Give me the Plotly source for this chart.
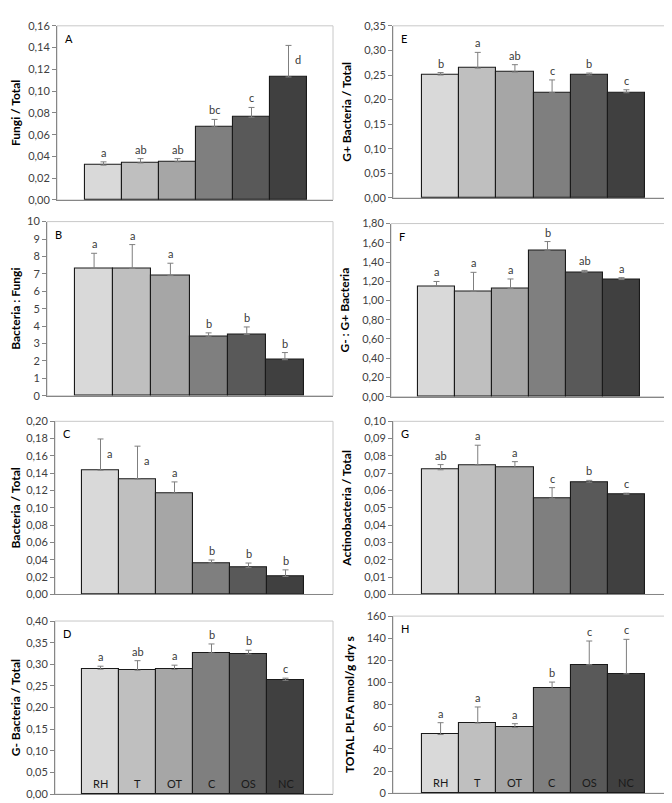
import plotly.graph_objects as go

W, H = 672, 803

categories = ["RH", "T", "OT", "C", "OS", "NC"]
bar_colors = ["#d9d9d9", "#bfbfbf", "#a6a6a6", "#7f7f7f", "#595959", "#404040"]

# Panel A: Fungi / Total
fungi_total = [0.032, 0.034, 0.035, 0.067, 0.076, 0.113]
fungi_total_err = [0.003, 0.004, 0.003, 0.007, 0.009, 0.029]
fungi_total_letters = ["a", "ab", "ab", "bc", "c", "d"]

# Panel B: Bacteria : Fungi
bact_fungi = [7.31, 7.31, 6.90, 3.38, 3.52, 2.07]
bact_fungi_err = [0.87, 1.37, 0.71, 0.23, 0.43, 0.41]
bact_fungi_letters = ["a", "a", "a", "b", "b", "b"]

# Panel C: Bacteria / Total
bact_total = [0.1436, 0.1333, 0.117, 0.0364, 0.031, 0.0208]
bact_total_err = [0.036, 0.038, 0.013, 0.0034, 0.0053, 0.0076]
bact_total_letters = ["a", "a", "a", "b", "b", "b"]

# Panel D: G- Bacteria / Total
gneg_total = [0.2886, 0.2864, 0.288, 0.326, 0.3235, 0.263]
gneg_total_err = [0.007, 0.022, 0.010, 0.021, 0.009, 0.005]
gneg_total_letters = ["a", "ab", "a", "b", "b", "c"]

# Panel E: G+ Bacteria / Total
gpos_total = [0.250, 0.264, 0.256, 0.214, 0.250, 0.214]
gpos_total_err = [0.005, 0.032, 0.015, 0.026, 0.004, 0.006]
gpos_total_letters = ["b", "a", "ab", "c", "b", "c"]

# Panel F: G- : G+ Bacteria
gneg_gpos = [1.15, 1.096, 1.124, 1.523, 1.293, 1.218]
gneg_gpos_err = [0.048, 0.197, 0.10, 0.09, 0.02, 0.02]
gneg_gpos_letters = ["a", "a", "a", "b", "ab", "a"]

# Panel G: Actinobacteria / Total
actino_total = [0.072, 0.0748, 0.0733, 0.0555, 0.0648, 0.0578]
actino_total_err = [0.003, 0.0114, 0.0034, 0.0062, 0.0011, 0.0007]
actino_total_letters = ["ab", "a", "a", "c", "b", "c"]

# Panel H: TOTAL PLFA
total_plfa = [53.0, 63.4, 59.3, 94.5, 116.1, 107.9]
total_plfa_err = [10.7, 14.5, 3.5, 5.9, 21.4, 31.1]
total_plfa_letters = ["a", "a", "a", "b", "c", "c"]

FONT = "Lato, 'Open Sans', sans-serif"
LETTER_COLOR = "#3a3a3a"

# (panel, values, errs, letters, ytitle, ymax, dtick, fmt, plot px box, bars px span, side letters idx, show cats)
panels = [
    ("A", fungi_total, fungi_total_err, fungi_total_letters, "Fungi / Total", 0.16, 0.02, ".2f",
     (49, 325, 11, 188), (77, 299), [5], False),
    ("E", gpos_total, gpos_total_err, gpos_total_letters, "G+ Bacteria / Total", 0.35, 0.05, ".2f",
     (385, 661, 11, 186), (414, 637), [], False),
    ("B", bact_fungi, bact_fungi_err, bact_fungi_letters, "Bacteria : Fungi", 10, 1, "d",
     (39, 325, 210, 387), (67, 296), [], False),
    ("F", gneg_gpos, gneg_gpos_err, gneg_gpos_letters, "G- : G+ Bacteria", 1.80, 0.20, ".2f",
     (383, 661, 212, 388), (410, 632), [], False),
    ("C", bact_total, bact_total_err, bact_total_letters, "Bacteria / Total", 0.20, 0.02, ".2f",
     (47, 325, 413, 589), (74, 296), [0, 1], False),
    ("G", actino_total, actino_total_err, actino_total_letters, "Actinobacteria / Total", 0.10, 0.01, ".2f",
     (385, 661, 413, 589), (414, 637), [], False),
    ("D", gneg_total, gneg_total_err, gneg_total_letters, "G- Bacteria / Total", 0.40, 0.05, ".2f",
     (47, 325, 616, 792), (74, 296), [], True),
    ("H", total_plfa, total_plfa_err, total_plfa_letters, "TOTAL PLFA nmol/g dry s", 160, 20, "d",
     (385, 661, 611, 791), (414, 637), [], True),
]

fig = go.Figure()
annotations = []
shapes = []
layout_axes = {}

for i, (name, vals, errs, letters, ytitle, ymax, dtick, fmt, box, bars, side, showcats) in enumerate(panels):
    n = i + 1
    xa = "x" if n == 1 else f"x{n}"
    ya = "y" if n == 1 else f"y{n}"
    xkey = "xaxis" if n == 1 else f"xaxis{n}"
    ykey = "yaxis" if n == 1 else f"yaxis{n}"
    p0, p1, t0, t1 = box
    b0, b1 = bars
    unit = (b1 - b0) / 6.0
    xr = [-0.5 - (b0 - p0) / unit, 5.5 + (p1 - b1) / unit]
    xs = list(range(6))

    fig.add_trace(go.Bar(
        x=xs, y=vals, width=1.0,
        marker=dict(color=bar_colors, line=dict(color="#1a1a1a", width=1.1)),
        error_y=dict(type="data", array=errs, arrayminus=[0] * 6, symmetric=False,
                     color="#7f7f7f", thickness=1, width=3),
        xaxis=xa, yaxis=ya, showlegend=False, hoverinfo="skip",
    ))

    layout_axes[xkey] = dict(
        domain=[p0 / W, p1 / W], range=xr, anchor=ya,
        showticklabels=False, ticks="", showgrid=False, zeroline=False,
        showline=True, linecolor="#868686", linewidth=1,
    )
    layout_axes[ykey] = dict(
        domain=[1 - t1 / H, 1 - t0 / H], range=[0, ymax], anchor=xa,
        dtick=dtick, tick0=0, tickformat=fmt, showgrid=False, zeroline=False,
        showline=True, linecolor="#868686", linewidth=1,
        ticks="outside", ticklen=4, tickcolor="#868686",
        tickfont=dict(family=FONT, size=11, color="#404040"),
        title=dict(text=f"<b>{ytitle}</b>", font=dict(family=FONT, size=12, color="#000000"),
                   standoff=9),
    )

    # light-gray frame (top/right)
    shapes.append(dict(type="rect", xref=f"{xa} domain", yref=f"{ya} domain",
                       x0=0, x1=1, y0=0, y1=1, line=dict(color="#c8c8c8", width=1),
                       layer="below"))

    # panel letter
    annotations.append(dict(text=name, xref=f"{xa} domain", yref=f"{ya} domain",
                            x=0, y=1, xanchor="left", yanchor="top", xshift=6, yshift=-4,
                            showarrow=False, font=dict(family=FONT, size=11, color="#000000")))

    # significance letters
    for j in range(6):
        if j in side:
            annotations.append(dict(text=letters[j], xref=xa, yref=ya,
                                    x=xs[j], y=vals[j] + errs[j] * 0.55,
                                    xanchor="left", yanchor="middle", xshift=4,
                                    showarrow=False,
                                    font=dict(family=FONT, size=11, color=LETTER_COLOR)))
        else:
            annotations.append(dict(text=letters[j], xref=xa, yref=ya,
                                    x=xs[j], y=vals[j] + errs[j],
                                    xanchor="center", yanchor="bottom", yshift=1,
                                    showarrow=False,
                                    font=dict(family=FONT, size=11, color=LETTER_COLOR)))

    if showcats:
        for j in range(6):
            annotations.append(dict(text=categories[j], xref=xa, yref=ya,
                                    x=xs[j], y=0, xanchor="center", yanchor="middle",
                                    yshift=11, showarrow=False,
                                    font=dict(family=FONT, size=11, color="#1a1a1a")))

fig.update_layout(
    width=W, height=H,
    margin=dict(l=0, r=0, t=0, b=0),
    paper_bgcolor="white", plot_bgcolor="white",
    separators=",.",
    bargap=0,
    annotations=annotations,
    shapes=shapes,
    **layout_axes,
)

fig.write_html("out.html")
